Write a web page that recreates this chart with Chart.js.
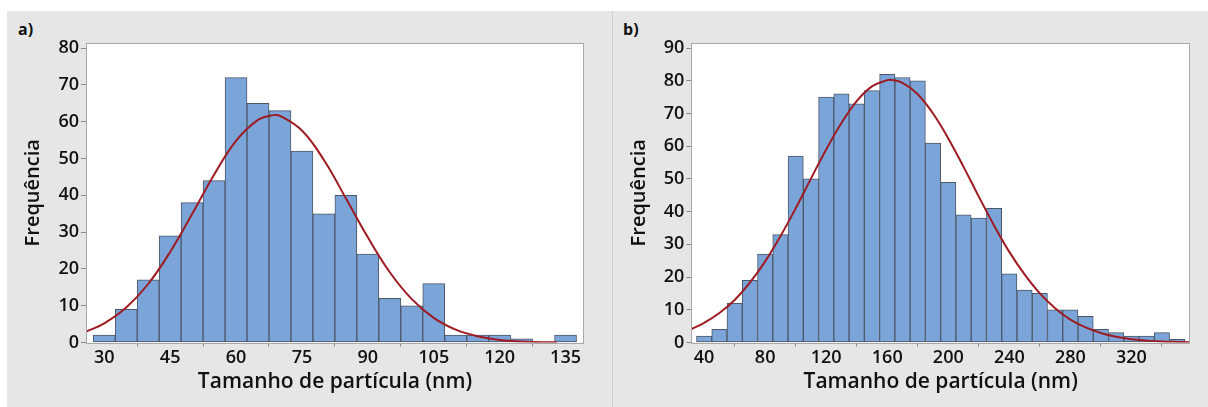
<!DOCTYPE html>
<html>
<head>
<meta charset="utf-8">
<script src="https://cdn.jsdelivr.net/npm/chart.js@4.4.1/dist/chart.umd.min.js"></script>
<style>
  html, body { margin:0; padding:0; background:#ffffff; }
  body { width:1208px; height:407px; position:relative; overflow:hidden; font-family:"Open Sans", sans-serif; }
  .panel { position:absolute; background:#e6e6e6; }
  #pa { left:7px; top:11px; width:605px; height:396px; }
  #pb { left:613px; top:11px; width:595px; height:396px; }
  #sep { position:absolute; left:612px; top:11px; width:1px; height:396px; background:#cfcfcf; }
  .lbl { position:absolute; font-weight:700; font-size:16px; line-height:16px; color:#111; }
  canvas { position:absolute; top:0; }
</style>
</head>
<body>
<div class="panel" id="pa"></div>
<div class="panel" id="pb"></div>
<div id="sep"></div>
<div class="lbl" style="left:18px; top:21px;">a)</div>
<div class="lbl" style="left:623px; top:21px;">b)</div>
<canvas id="ca" width="612" height="407" style="left:0px; width:612px; height:407px;"></canvas>
<canvas id="cb" width="596" height="407" style="left:612px; width:596px; height:407px;"></canvas>
<script>
// ---- Panel a data ----
const aBins   = [30, 35, 40, 45, 50, 55, 60, 65, 70, 75, 80, 85, 90, 95, 100, 105, 110, 115, 120, 125, 130, 135];
const aCounts = [2, 9, 17, 29, 38, 44, 72, 65, 63, 52, 35, 40, 24, 12, 10, 16, 2, 2, 2, 1, 0, 2];
const aFitX   = [26, 30, 35, 40, 45, 50, 55, 60, 65, 68.5, 70, 75, 80, 85, 90, 95, 100, 105, 110, 115, 120, 125, 130, 133];
const aFitY   = [3.0, 5.2, 9.5, 15.9, 24.6, 34.9, 45.6, 54.8, 60.5, 61.8, 61.6, 57.6, 49.6, 39.2, 28.6, 19.1, 11.8, 6.7, 3.5, 1.7, 0.7, 0.3, 0.1, 0.1];
const aXTicks = [30, 45, 60, 75, 90, 105, 120, 135];
const aYTicks = [0, 10, 20, 30, 40, 50, 60, 70, 80];

// ---- Panel b data ----
const bBins   = [40, 50, 60, 70, 80, 90, 100, 110, 120, 130, 140, 150, 160, 170, 180, 190, 200, 210, 220, 230, 240, 250, 260, 270, 280, 290, 300, 310, 320, 330, 340, 350];
const bCounts = [2, 4, 12, 19, 27, 33, 57, 50, 75, 76, 73, 77, 82, 81, 80, 61, 49, 39, 38, 41, 21, 16, 15, 10, 10, 8, 4, 3, 2, 2, 3, 1];
const bFitX   = [31.6, 40, 50, 60, 70, 80, 90, 100, 110, 120, 130, 140, 150, 160, 162, 170, 180, 190, 200, 210, 220, 230, 240, 250, 260, 270, 280, 290, 300, 310, 320, 330, 340, 350, 358.4];
const bFitY   = [4.1, 6.0, 9.0, 13.0, 18.3, 24.8, 32.5, 41.0, 50.1, 59.0, 67.1, 73.8, 78.3, 80.2, 80.3, 79.4, 75.9, 70.0, 62.4, 53.7, 44.6, 35.8, 27.7, 20.8, 15.0, 10.5, 7.0, 4.6, 2.9, 1.75, 1.0, 0.6, 0.3, 0.17, 0.1];
const bXTicks = [40, 80, 120, 160, 200, 240, 280, 320];
const bYTicks = [0, 10, 20, 30, 40, 50, 60, 70, 80, 90];

const xTitle = 'Tamanho de partícula (nm)';
const yTitle = 'Frequência';

const FONT = '"Open Sans", sans-serif';
const BAR_FILL = '#7ba4d9';
const BAR_EDGE = '#4d5866';
const FIT_COLOR = '#9e1b22';

const framePlugin = {
  id: 'frame',
  beforeDraw(chart) {
    const a = chart.chartArea, ctx = chart.ctx;
    ctx.save();
    ctx.fillStyle = '#ffffff';
    ctx.fillRect(a.left, a.top, a.right - a.left, a.bottom - a.top);
    ctx.restore();
  },
  afterDraw(chart) {
    const a = chart.chartArea, ctx = chart.ctx;
    ctx.save();
    ctx.strokeStyle = '#a8a8a8';
    ctx.lineWidth = 1;
    ctx.strokeRect(Math.round(a.left) + 0.5, Math.round(a.top) + 0.5,
                   Math.round(a.right - a.left) - 1, Math.round(a.bottom - a.top));
    ctx.restore();
  }
};

function makeChart(id, cfg) {
  const bars = cfg.bins.map((b, i) => ({ x: b, y: cfg.counts[i] }));
  const fit = cfg.fitX.map((x, i) => ({ x: x, y: cfg.fitY[i] }));
  return new Chart(document.getElementById(id), {
    data: {
      datasets: [
        { type: 'bar', data: bars, backgroundColor: BAR_FILL, borderColor: BAR_EDGE,
          borderWidth: 1, borderSkipped: false, barPercentage: 1, categoryPercentage: 1, order: 2 },
        { type: 'line', data: fit, borderColor: FIT_COLOR, borderWidth: 2, pointRadius: 0,
          tension: 0.4, fill: false, order: 1 }
      ]
    },
    options: {
      responsive: false, animation: false, devicePixelRatio: 1,
      layout: { padding: { left: 0, top: cfg.top, right: cfg.right, bottom: 0 } },
      plugins: { legend: { display: false }, tooltip: { enabled: false } },
      scales: {
        x: {
          type: 'linear', min: cfg.xmin, max: cfg.xmax, offset: false,
          afterBuildTicks: s => { s.ticks = cfg.xTicks.map(v => ({ value: v })); },
          afterFit: s => { s.height = cfg.xAxisH; },
          grid: { drawOnChartArea: false, drawTicks: true, tickLength: 4, color: '#8a8a8a' },
          border: { display: false },
          ticks: { color: '#111', padding: 1, maxRotation: 0, autoSkip: false,
                   font: { family: FONT, size: 18, weight: '600' } },
          title: { display: true, text: xTitle, color: '#111',
                   font: { family: FONT, size: 21, weight: '600' }, padding: { top: 0, bottom: cfg.xTitlePad } }
        },
        y: {
          type: 'linear', min: 0, max: cfg.ymax,
          afterBuildTicks: s => { s.ticks = cfg.yTicks.map(v => ({ value: v })); },
          afterFit: s => { s.width = cfg.yAxisW; },
          grid: { drawOnChartArea: false, drawTicks: true, tickLength: 5, color: '#8a8a8a' },
          border: { display: false },
          ticks: { color: '#111', padding: 2, autoSkip: false,
                   font: { family: FONT, size: 18, weight: '600' } },
          title: { display: true, text: yTitle, color: '#111',
                   font: { family: FONT, size: 20, weight: '600' }, padding: { top: cfg.yTitlePad, bottom: 0 } }
        }
      }
    },
    plugins: [framePlugin]
  });
}

makeChart('ca', {
  bins: aBins, counts: aCounts, fitX: aFitX, fitY: aFitY, xTicks: aXTicks, yTicks: aYTicks,
  xmin: 25.85, xmax: 139.2, ymax: 81.4,
  top: 43, right: 28, xAxisH: 64.5, yAxisW: 86, xTitlePad: 12.5, yTitlePad: 21.5
});

makeChart('cb', {
  bins: bBins, counts: bCounts, fitX: bFitX, fitY: bFitY, xTicks: bXTicks, yTicks: bYTicks,
  xmin: 31.6, xmax: 358.4, ymax: 91.56,
  top: 43, right: 18, xAxisH: 64.5, yAxisW: 79.3, xTitlePad: 12.5, yTitlePad: 15.5
});
</script>
</body>
</html>
